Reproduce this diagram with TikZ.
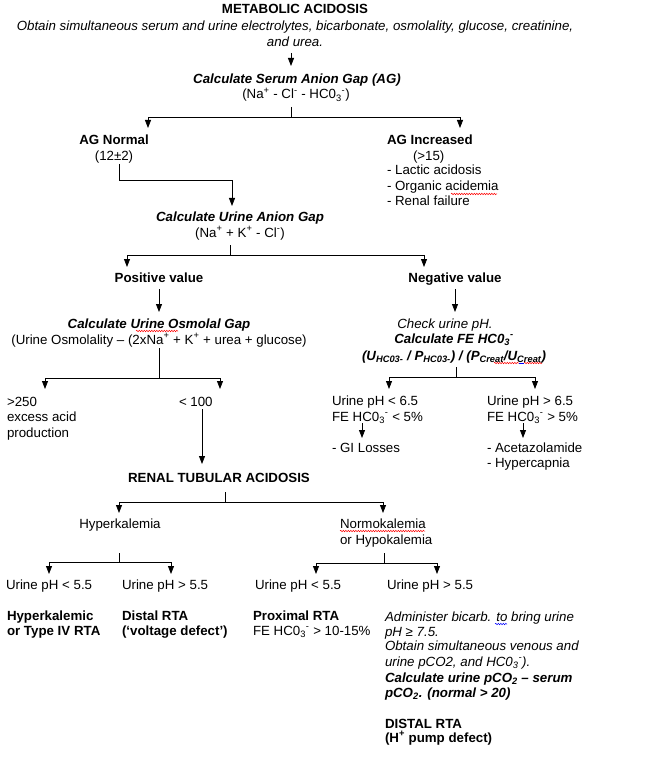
\documentclass[tikz,border=0pt]{standalone}
\usepackage{fontspec}
\setmainfont{Liberation Sans}
\usetikzlibrary{arrows.meta,decorations.pathmorphing}
\newcommand{\fs}{\fontsize{13.3}{15.5}\selectfont}
\newcommand{\hco}{HC0\textsubscript{3}\textsuperscript{-}}
\newcommand{\mysup}[1]{\textsuperscript{#1}}
\newcommand{\mysub}[1]{\textsubscript{#1}}
\begin{document}
\begin{tikzpicture}[x=1pt,y=-1pt,
  every node/.style={inner sep=0pt, outer sep=0pt, font=\fs},
  tc/.style={anchor=base},
  tl/.style={anchor=base west},
  fb/.style={font=\fs\bfseries},
  fi/.style={font=\fs\itshape},
  fbi/.style={font=\fs\bfseries\itshape},
  arr/.style={-{Triangle[width=6pt,length=8pt]}, line width=0.8pt},
  ln/.style={line width=0.8pt},
  squig/.style={red, line width=0.5pt, decorate, decoration={snake, amplitude=0.7pt, segment length=2.5pt}}]
\useasboundingbox[fill=white] (0,0) rectangle (650,759);

% ---- top
\node[tc,fb] (title) at (295,14) {METABOLIC ACIDOSIS};
\node[tc,fi] (obt1) at (295,31) {Obtain simultaneous serum and urine electrolytes, bicarbonate, osmolality, glucose, creatinine,};
\node[tc,fi] (obt2) at (295,47) {and urea.};
\node[tc,fbi] (sag) at (297,84) {Calculate Serum Anion Gap (AG)};
\node[tc] (sag2) at (296,99) {(Na\mysup{+} - Cl\mysup{-} - \hco)};
\coordinate (a1s) at (291,53); \coordinate (a1e) at (291,66);
\draw[arr] (a1s) -- (a1e);
\coordinate (s1) at (291,107); \coordinate (b1) at (291,117);
\coordinate (agnA) at (148,128); \coordinate (agiA) at (460,128);
\draw[ln] (s1) -- (b1);
\draw[arr] (b1) -| (agnA);
\draw[arr] (b1) -| (agiA);

% ---- AG normal / increased
\node[tc,fb] (agn) at (114,145) {AG Normal};
\node[tc] (agn2) at (114,161) {(12±2)};
\node[tl,fb] (agi) at (387,145) {AG Increased};
\node[tl] (agi2) at (413,161) {(>15)};
\node[tl] (agi3) at (387,175) {- Lactic acidosis};
\node[tl] (agi4) at (387,191) {- Organic acidemia};
\node[tl] (agi5) at (387,206) {- Renal failure};
\draw[squig] (451,194) -- (497,194);
\coordinate (c2s) at (119,164); \coordinate (c2m) at (119,180);
\coordinate (c2e) at (232,206);
\draw[arr] (c2s) -- (c2m) -| (c2e);

\node[tc,fbi] (uag) at (240,222) {Calculate Urine Anion Gap};
\node[tc] (uag2) at (240,237) {(Na\mysup{+} + K\mysup{+} - Cl\mysup{-})};
\coordinate (s3) at (230,245); \coordinate (b3) at (230,255);
\coordinate (posA) at (127,267); \coordinate (negA) at (424,267);
\draw[ln] (s3) -- (b3);
\draw[arr] (b3) -| (posA);
\draw[arr] (b3) -| (negA);

\node[tc,fb] (pos) at (159,282) {Positive value};
\node[tc,fb] (neg) at (455,282) {Negative value};
\coordinate (p1) at (159,289); \coordinate (p2) at (159,312);
\coordinate (n1) at (455,289); \coordinate (n2) at (455,312);
\draw[arr] (p1) -- (p2);
\draw[arr] (n1) -- (n2);

\node[tc,fbi] (osm) at (159,328) {Calculate Urine Osmolal Gap};
\node[tc] (osm2) at (159,344) {(Urine Osmolality -- (2xNa\mysup{+} + K\mysup{+} + urea + glucose)};
\draw[squig] (136,331) -- (178,331);
\node[tc,fi] (chk) at (445,328) {Check urine pH.};
\node[tc,fbi] (fe) at (454,343) {Calculate FE \hco};
\node[tc,fbi] (fe2) at (454,360) {(U\mysub{HC03-} / P\mysub{HC03-}) / (P\mysub{Creat}/U\mysub{Creat})};
\draw[squig] (494,363) -- (519,363);
\draw[blue, line width=0.6pt] (519,363) -- (524,363);
\draw[squig] (524,363) -- (542,363);

\coordinate (s4) at (159,348); \coordinate (b4) at (159,378);
\coordinate (gA) at (45,389); \coordinate (lA) at (220,389);
\draw[ln] (s4) -- (b4);
\draw[arr] (b4) -| (gA);
\draw[arr] (b4) -| (lA);
\node[tl] (g1) at (7,406) {>250};
\node[tl] (g2) at (7,421) {excess acid};
\node[tl] (g3) at (7,437) {production};
\node[tl] (l1) at (179,406) {< 100};
\coordinate (l1s) at (202,409); \coordinate (l1e) at (202,464);
\draw[arr] (l1s) -- (l1e);

\coordinate (s5) at (456,367); \coordinate (b5) at (456,377);
\coordinate (phA) at (389,389); \coordinate (phB) at (535,389);
\draw[ln] (s5) -- (b5);
\draw[arr] (b5) -| (phA);
\draw[arr] (b5) -| (phB);
\node[tl] (ph1) at (332,405) {Urine pH < 6.5};
\node[tl] (ph1b) at (332,421) {FE \hco{} < 5\%};
\node[tl] (gi) at (332,452) {- GI Losses};
\node[tl] (ph2) at (487,405) {Urine pH > 6.5};
\node[tl] (ph2b) at (487,421) {FE \hco{} > 5\%};
\node[tl] (acet) at (487,452) {- Acetazolamide};
\node[tl] (hypc) at (487,467) {- Hypercapnia};
\coordinate (q1) at (362,423); \coordinate (q2) at (362,438);
\coordinate (r1) at (523,423); \coordinate (r2) at (523,438);
\draw[arr] (q1) -- (q2);
\draw[arr] (r1) -- (r2);

% ---- RTA
\node[tc,fb] (rta) at (219,482) {RENAL TUBULAR ACIDOSIS};
\coordinate (s6) at (225,492); \coordinate (b6) at (225,502);
\coordinate (hkA) at (119,513); \coordinate (nkA) at (383,513);
\draw[ln] (s6) -- (b6);
\draw[arr] (b6) -| (hkA);
\draw[arr] (b6) -| (nkA);
\node[tc] (hk) at (120,528) {Hyperkalemia};
\node[tl] (nk) at (340,528) {Normokalemia};
\node[tl] (nk2) at (340,544) {or Hypokalemia};
\draw[squig] (340,531) -- (425,531);

\coordinate (s7) at (119,553); \coordinate (b7) at (119,562);
\coordinate (u1A) at (49,574); \coordinate (u2A) at (171,574);
\draw[ln] (s7) -- (b7);
\draw[arr] (b7) -| (u1A);
\draw[arr] (b7) -| (u2A);
\coordinate (s8) at (384,553); \coordinate (b8) at (384,563);
\coordinate (u3A) at (316,574); \coordinate (u4A) at (437,574);
\draw[ln] (s8) -- (b8);
\draw[arr] (b8) -| (u3A);
\draw[arr] (b8) -| (u4A);

\node[tl] (u1) at (6,589) {Urine pH < 5.5};
\node[tl] (u2) at (122,589) {Urine pH > 5.5};
\node[tl] (u3) at (255,589) {Urine pH < 5.5};
\node[tl] (u4) at (387,589) {Urine pH > 5.5};

\node[tl,fb] (t1) at (7,620) {Hyperkalemic};
\node[tl,fb] (t1b) at (7,635) {or Type IV RTA};
\node[tl,fb] (t2) at (122,620) {Distal RTA};
\node[tl,fb] (t2b) at (122,635) {(‘voltage defect’)};
\node[tl,fb] (t3) at (253,620) {Proximal RTA};
\node[tl] (t3b) at (253,635) {FE \hco{} > 10-15\%};
\node[tl,fi] (t4a) at (385,621) {Administer bicarb. to bring urine};
\draw[squig, blue] (495,624) -- (507,624);
\node[tl,fi] (t4b) at (385,636) {pH ≥ 7.5.};
\node[tl,fi] (t4c) at (385,650) {Obtain simultaneous venous and};
\node[tl,fi] (t4d) at (385,666) {urine pCO2, and \hco).};
\node[tl,fbi] (t4e) at (385,682) {Calculate urine pCO\mysub{2} -- serum};
\node[tl,fbi] (t4f) at (385,697) {pCO\mysub{2}. (normal > 20)};
\node[tl,fb] (t4g) at (385,728) {DISTAL RTA};
\node[tl,fb] (t4h) at (385,742) {(H\mysup{+} pump defect)};
\end{tikzpicture}
\end{document}
